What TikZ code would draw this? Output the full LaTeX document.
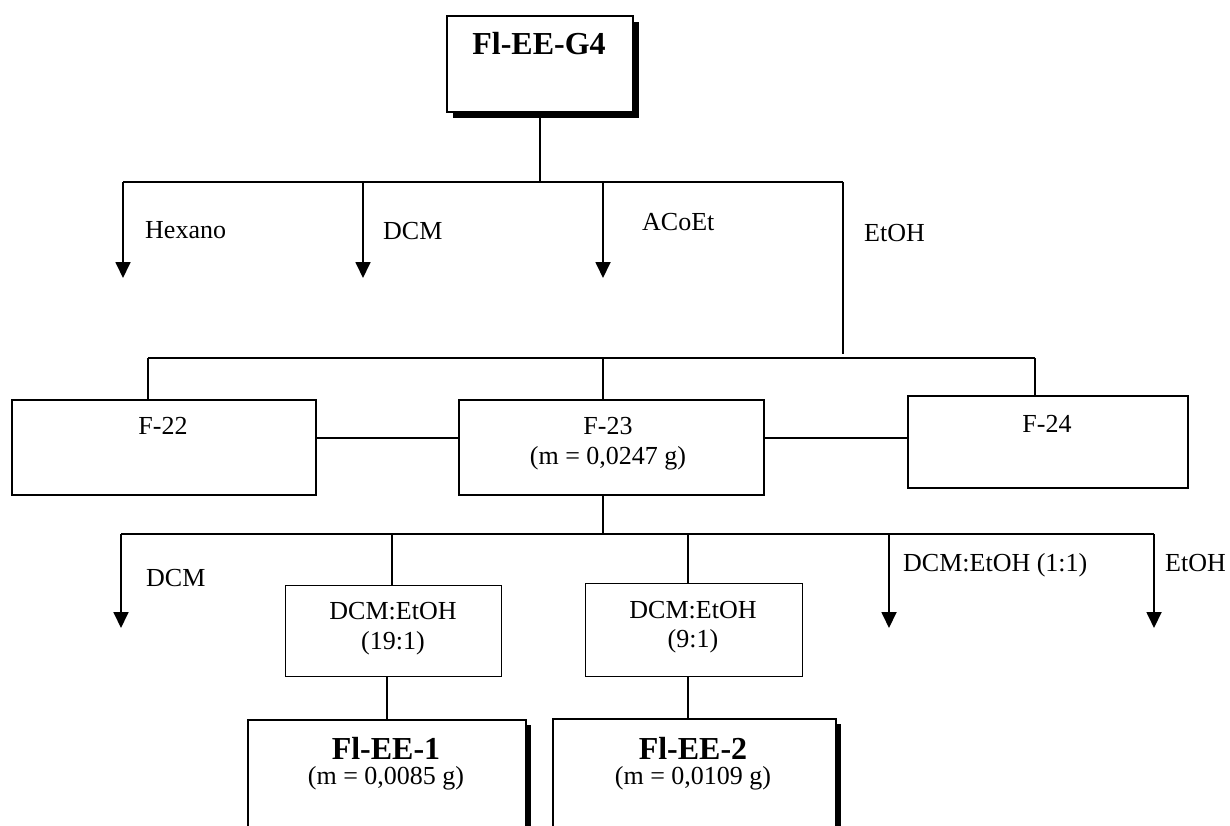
\documentclass[tikz,border=0pt]{standalone}
\usepackage{fontspec}
\setmainfont{Liberation Serif}
\usetikzlibrary{arrows.meta,shadows}
\begin{document}
\begin{tikzpicture}[x=1pt,y=-1pt,
  box/.style={draw,line width=1.8pt,fill=white,inner sep=0pt,anchor=north west},
  shadowed/.style={drop shadow={shadow xshift=#1,shadow yshift=-#1,fill=black,opacity=1}},
  wire/.style={line width=1.8pt},
  thinwire/.style={line width=1.2pt},
  arr/.style={wire,-{Triangle[width=15pt,length=16pt]}},
  lbl/.style={font=\fontsize{26}{30}\selectfont,inner sep=0pt},
  boldlbl/.style={font=\fontsize{32}{36}\selectfont\bfseries,inner sep=0pt}]
\clip (0,0) rectangle (1230,826);

% ---- starting fraction ----
\node[box,shadowed=6pt,minimum width=186pt,minimum height=96pt] (g4) at (446,15) {};
\node[boldlbl,anchor=base] (g4t) at (539,55) {Fl-EE-G4};

% ---- first partition ----
\coordinate (b1l) at (123,182);
\coordinate (b1d) at (363,182);
\coordinate (b1a) at (603,182);
\coordinate (b1r) at (843,182);
\coordinate (t1h) at (123,278);
\coordinate (t1d) at (363,278);
\coordinate (t1a) at (603,278);
\coordinate (e1) at (843,354);
\draw[thinwire] (g4.south) -- (g4.south |- b1l);
\draw[wire] (b1l) -- (b1r);
\draw[arr] (b1l) -- (t1h);
\draw[arr] (b1d) -- (t1d);
\draw[arr] (b1a) -- (t1a);
\draw[wire] (b1r) -- (e1);
\node[lbl,anchor=base west] (hex) at (145,239) {Hexano};
\node[lbl,anchor=base west] (dcm1) at (383,240) {DCM};
\node[lbl,anchor=base west] (acoet) at (642,231) {ACoEt};
\node[lbl,anchor=base west] (etoh1) at (864,241) {EtOH};

% ---- fractions F-22 to F-24 ----
\node[box,minimum width=304pt,minimum height=95pt] (f22) at (11,399) {};
\node[box,minimum width=305pt,minimum height=95pt] (f23) at (458,399) {};
\node[box,minimum width=280pt,minimum height=92pt] (f24) at (907,395) {};
\node[lbl,anchor=base] (f22t) at (163,434) {F-22};
\node[lbl,anchor=base] (f23t) at (608,434) {F-23};
\node[lbl,anchor=base] (f23m) at (608,464) {(m = 0,0247 g)};
\node[lbl,anchor=base] (f24t) at (1047,432) {F-24};

\coordinate (b2l) at (148,358);
\coordinate (b2m) at (603,358);
\coordinate (b2r) at (1035,358);
\draw[wire] (b2l) -- (b2r);
\draw[thinwire] (b2l) -- (b2l |- f22.north);
\draw[thinwire] (b2m) -- (b2m |- f23.north);
\draw[thinwire] (b2r) -- (b2r |- f24.north);
\draw[wire] (f22.east |- 0,438) -- (f23.west |- 0,438);
\draw[wire] (f23.east |- 0,438) -- (f24.west |- 0,438);

% ---- column of F-23 ----
\coordinate (b3l) at (121,534);
\coordinate (b3a) at (392,534);
\coordinate (b3b) at (688,534);
\coordinate (b3c) at (889,534);
\coordinate (b3r) at (1154,534);
\coordinate (t3l) at (121,628);
\coordinate (t3c) at (889,628);
\coordinate (t3r) at (1154,628);
\draw[thinwire] (f23.south -| b2m) -- (b2m |- b3l);
\draw[wire] (b3l) -- (b3r);
\draw[arr] (b3l) -- (t3l);
\draw[arr] (b3c) -- (t3c);
\draw[arr] (b3r) -- (t3r);
\node[lbl,anchor=base west] (dcm2) at (146,586) {DCM};
\node[lbl,anchor=base west] (mix11) at (903,571) {DCM:EtOH (1:1)};
\node[lbl,anchor=base west] (etoh2) at (1165,571) {EtOH};

\node[box,line width=1.4pt,minimum width=216pt,minimum height=91pt] (m191) at (285,585) {};
\node[box,line width=1.4pt,minimum width=217pt,minimum height=93pt] (m91) at (585,583) {};
\node[lbl,anchor=base] (m191a) at (393,619) {DCM:EtOH};
\node[lbl,anchor=base] (m191b) at (393,649) {(19:1)};
\node[lbl,anchor=base] (m91a) at (693,618) {DCM:EtOH};
\node[lbl,anchor=base] (m91b) at (693,647) {(9:1)};
\draw[wire] (b3a) -- (b3a |- m191.north);
\draw[wire] (b3b) -- (b3b |- m91.north);

% ---- isolated compounds ----
\node[box,shadowed=5pt,minimum width=278pt,minimum height=140pt] (fl1) at (247,719) {};
\node[box,shadowed=5pt,minimum width=283pt,minimum height=140pt] (fl2) at (552,718) {};
\node[boldlbl,anchor=base] (fl1t) at (386,759) {Fl-EE-1};
\node[lbl,anchor=base] (fl1m) at (386,784) {(m = 0,0085 g)};
\node[boldlbl,anchor=base] (fl2t) at (693,759) {Fl-EE-2};
\node[lbl,anchor=base] (fl2m) at (693,784) {(m = 0,0109 g)};
\draw[wire] (m191.south -| 387,0) -- (fl1.north -| 387,0);
\draw[wire] (m91.south -| 688,0) -- (fl2.north -| 688,0);
\end{tikzpicture}
\end{document}
